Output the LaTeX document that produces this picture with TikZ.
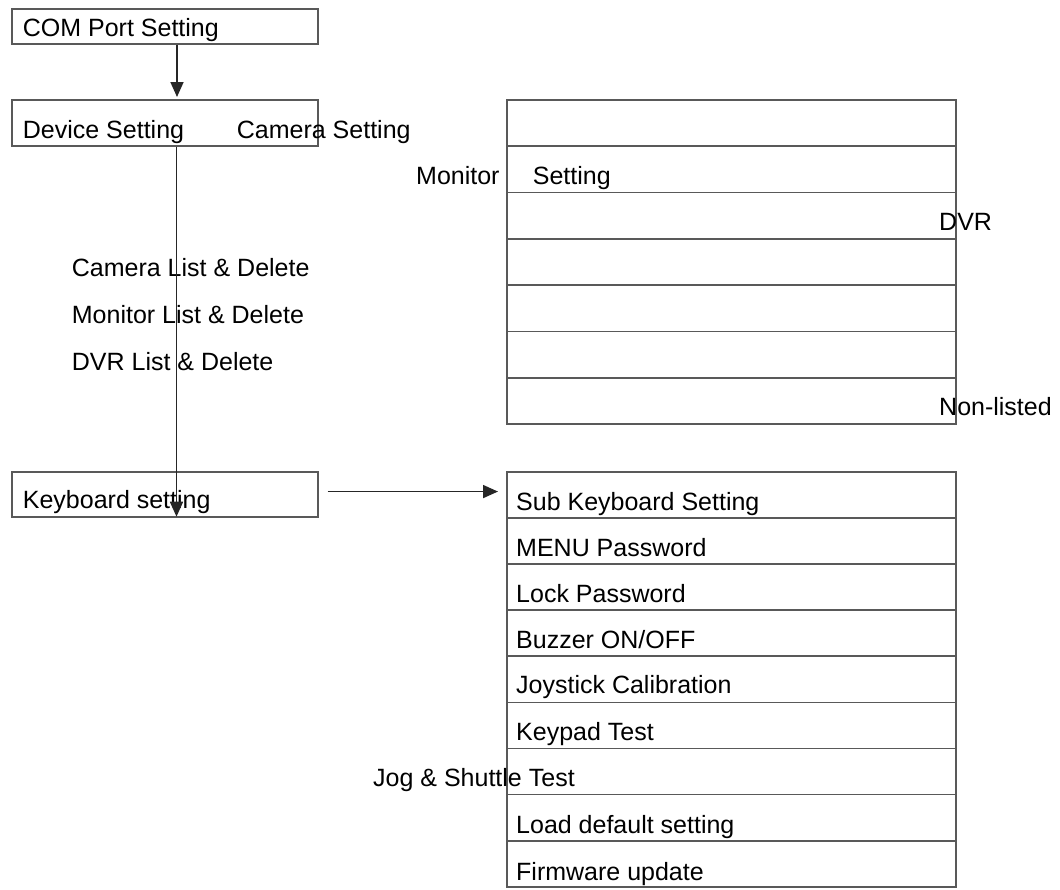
\documentclass[tikz,border=0pt]{standalone}
\usepackage{fontspec}
\setmainfont{Liberation Sans}
\usetikzlibrary{arrows.meta,calc}
\begin{document}
\begin{tikzpicture}[x=1pt,y=-1pt,
  boxstyle/.style={draw=black!65,line width=1.7pt,inner sep=0pt,anchor=north west},
  rowstyle/.style={boxstyle,minimum width=449pt},
  txt/.style={anchor=base west,inner sep=0pt,font=\fontsize{25}{28}\selectfont},
  conn/.style={draw=black!85,line width=1.7pt,-{Triangle[length=15pt,width=13pt]}}]
\useasboundingbox (0,0) rectangle (1060,889);
% left boxes
\node[boxstyle,minimum width=306pt,minimum height=35pt] (com) at (11,8) {};
\node[boxstyle,minimum width=306pt,minimum height=46pt] (dev) at (11,99) {};
\node[boxstyle,minimum width=306pt,minimum height=45pt] (kb) at (11,471) {};
% upper right stack
\foreach \i in {0,...,6}{
  \node[rowstyle,minimum height=46.33pt] (u\i) at (506,{99+46.33*\i}) {};
}
% lower right stack
\foreach \i in {0,...,8}{
  \node[rowstyle,minimum height=46.1pt] (r\i) at (506,{471+46.1*\i}) {};
}
% texts
\node[txt] (tcom) at (22.7,36.7) {COM Port Setting};
\node[txt] (tdev) at (22.7,138) {Device Setting};
\node[txt] (tcam) at (236.7,138) {Camera Setting};
\node[txt] (tmon) at (416,184) {\makebox[116.7pt][l]{Monitor}Setting};
\node[txt] (tdvr) at (939,230) {DVR};
\node[txt] (tnon) at (939,415) {Non-listed};
\node[txt] (tcl) at (71.7,276) {Camera List \& Delete};
\node[txt] (tml) at (71.7,323) {Monitor List \& Delete};
\node[txt] (tdl) at (71.7,370) {DVR List \& Delete};
\node[txt] (tkb) at (22.7,508) {Keyboard setting};
\node[txt] (t0) at (516,510) {Sub Keyboard Setting};
\node[txt] (t1) at (516,556.7) {MENU Password};
\node[txt] (t2) at (516,602) {Lock Password};
\node[txt] (t3) at (516,648) {Buzzer ON/OFF};
\node[txt] (t4) at (516,693.3) {Joystick Calibration};
\node[txt] (t5) at (516,740) {Keypad Test};
\node[txt] (t6) at (373,786.7) {Jog \& Shuttle Test};
\node[txt] (t7) at (516,833) {Load default setting};
\node[txt] (t8) at (516,880) {Firmware update};
% connectors
\coordinate (c1) at ($(com.south west)+(166,0)$);
\coordinate (d0) at ($(dev.north west)+(166,-2)$);
\coordinate (d1) at ($(dev.south west)+(165.5,0)$);
\coordinate (k1) at ($(kb.south west)+(165.5,-1)$);
\draw[conn] (c1) -- (d0);
\draw[conn] (d1) -- (k1);
\coordinate (ka) at ($(kb.east)+(9,-2.8)$);
\coordinate (kz) at ($(r0.west |- ka)+(-8,0)$);
\draw[conn] (ka) -- (kz);
\end{tikzpicture}
\end{document}
